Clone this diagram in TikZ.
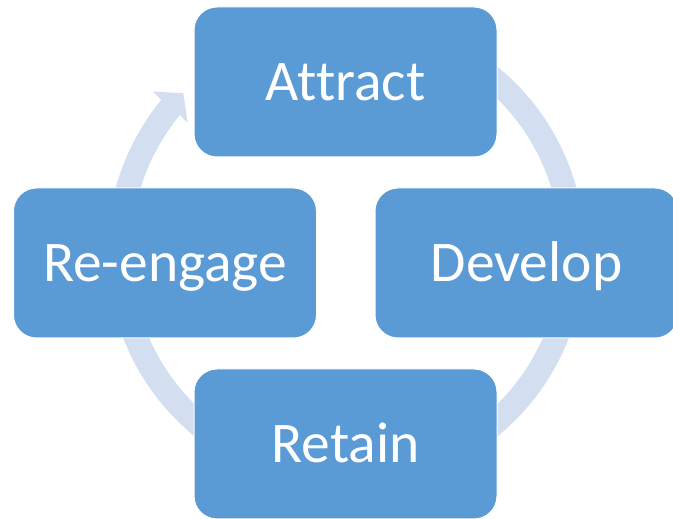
\documentclass[tikz,border=0pt]{standalone}
\usepackage{fontspec}
\setmainfont{Carlito}[Ligatures=NoCommon]
\usetikzlibrary{calc}
\definecolor{boxblue}{HTML}{5B9BD5}
\definecolor{ringblue}{RGB}{211,222,240}
\tikzset{
  stagebox/.style={draw=white, line width=1pt, fill=boxblue, rounded corners=23pt,
    minimum width=303pt, minimum height=150pt, inner sep=0pt,
    text=white, font=\fontsize{57.5}{62}\selectfont, text height=37pt, text depth=0pt},
  ringshape/.style={fill=ringblue, draw=none}
}
\begin{document}
\begin{tikzpicture}[x=1pt,y=1pt]
\useasboundingbox (0,0) rectangle (673,519);
\clip (0,0) rectangle (673,519);
\coordinate (C) at (346,267.5);
% circular arrow behind the boxes
\fill[ringshape]
  ($(C)+(90:239)$) arc[start angle=90, end angle=-219.4, radius=239pt]
  -- ($(C)+(140.4:251)$) -- ($(C)+(135.8:227)$) -- ($(C)+(140.9:204)$)
  -- ($(C)+(140.6:215)$) arc[start angle=-219.4, end angle=90, radius=215pt] -- cycle;
% stages
\node[stagebox] (attract) at (345.5,437) {Attract};
\node[stagebox] (develop) at (526.5,256) {Develop};
\node[stagebox] (retain)  at (345.5,75)  {Retain};
\node[stagebox] (reengage) at (165,256) {Re-engage};
\end{tikzpicture}
\end{document}
